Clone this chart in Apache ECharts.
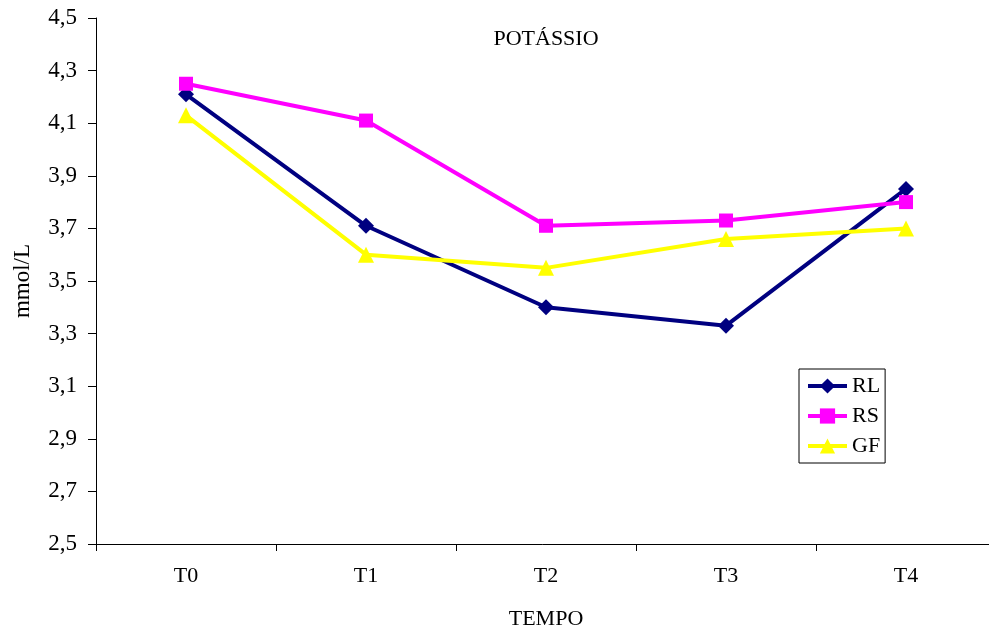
<!DOCTYPE html>
<html>
<head>
<meta charset="utf-8">
<script src="https://cdn.jsdelivr.net/npm/echarts@6/dist/echarts.min.js"></script>
<style>
  html, body { margin: 0; padding: 0; background: #fff; }
  #chart { width: 989px; height: 626px; }
</style>
</head>
<body>
<div id="chart"></div>
<script>
var categories = ["T0", "T1", "T2", "T3", "T4"];
var rlValues = [4.21, 3.71, 3.40, 3.33, 3.85];
var rsValues = [4.25, 4.11, 3.71, 3.73, 3.80];
var gfValues = [4.13, 3.60, 3.55, 3.66, 3.70];

var font = "Liberation Serif";

function makeSeries(name, data, color, symbol, size) {
  return {
    name: name,
    type: "line",
    data: data,
    symbol: symbol,
    symbolSize: size,
    lineStyle: { color: color, width: 4 },
    itemStyle: { color: color },
    animation: false
  };
}

var chart = echarts.init(document.getElementById("chart"));
chart.setOption({
  backgroundColor: "#fff",
  textStyle: { fontFamily: font },
  title: {
    text: "POTÁSSIO",
    left: 541,
    top: 23,
    textAlign: "center",
    textStyle: { fontFamily: font, fontSize: 22, fontWeight: "normal", color: "#000" }
  },
  legend: {
    orient: "vertical",
    left: 799,
    top: 369,
    padding: [6, 5, 6, 7],
    itemGap: 8,
    itemWidth: 39,
    itemHeight: 19,
    borderColor: "#000",
    borderWidth: 1,
    borderRadius: 0,
    lineStyle: { width: 4 },
    textStyle: { fontFamily: font, fontSize: 22, color: "#000" },
    data: ["RL", "RS", "GF"]
  },
  grid: { left: 96, top: 18, right: -7, bottom: 82, containLabel: false, outerBoundsMode: "none" },
  xAxis: {
    type: "category",
    data: categories,
    boundaryGap: true,
    name: "TEMPO",
    nameLocation: "middle",
    nameGap: 64,
    nameTextStyle: { fontFamily: font, fontSize: 22, color: "#000" },
    axisLine: { lineStyle: { color: "#000", width: 1 } },
    axisTick: { show: true, length: 7, inside: false, lineStyle: { color: "#000" } },
    axisLabel: { margin: 21, fontFamily: font, fontSize: 22, color: "#000" },
    splitLine: { show: false }
  },
  yAxis: {
    type: "value",
    min: 2.5,
    max: 4.5,
    interval: 0.2,
    name: "mmol/L",
    nameLocation: "middle",
    nameGap: 62,
    nameRotate: 90,
    nameTextStyle: { fontFamily: font, fontSize: 23, color: "#000" },
    axisLine: { show: true, lineStyle: { color: "#000", width: 1 } },
    axisTick: { show: true, length: 8, lineStyle: { color: "#000" } },
    axisLabel: {
      margin: 19,
      fontFamily: font,
      fontSize: 23,
      color: "#000",
      formatter: function (v) { return v.toFixed(1).replace(".", ","); }
    },
    splitLine: { show: false }
  },
  series: [
    makeSeries("RL", rlValues, "#000080", "diamond", 16),
    makeSeries("RS", rsValues, "#FF00FF", "rect", 14),
    makeSeries("GF", gfValues, "#FFFF00", "triangle", 16)
  ]
});
</script>
</body>
</html>
